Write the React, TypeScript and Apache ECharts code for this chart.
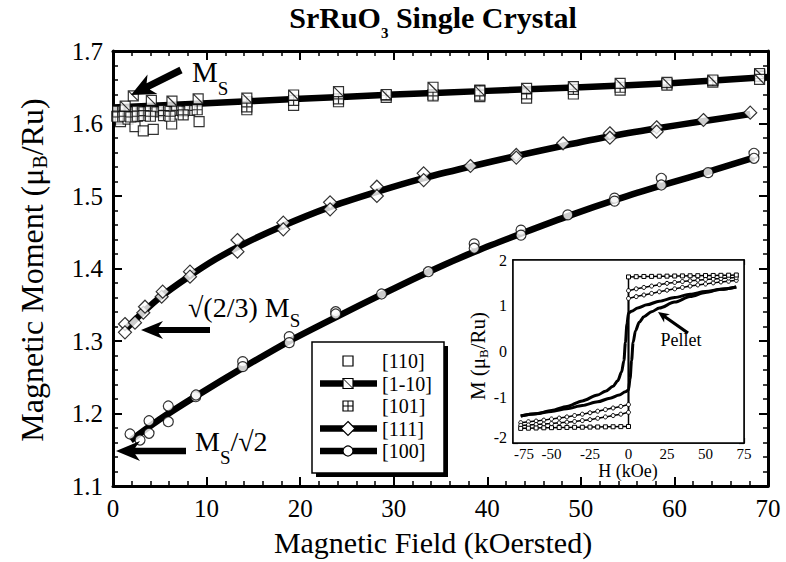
import React, { useEffect, useRef } from 'react';
import * as echarts from 'echarts';

const FONT = '"Liberation Serif", "Times New Roman", serif';

// ---------- main plot data (H in kOe, M in muB/Ru) ----------
const legendNames = ['[110]', '[1-10]', '[101]', '[111]', '[100]'];

const pts110: number[][] = [
  [0.4, 1.61], [0.8, 1.6025], [1.6, 1.606], [2.35, 1.5956], [3.24, 1.5897], [4.3, 1.592], [6.27, 1.5993], [9.2, 1.6025],
  [14.3, 1.619], [19.3, 1.625], [24.1, 1.63], [29.2, 1.636], [34.2, 1.64], [39.2, 1.637], [44.2, 1.635],
  [49.2, 1.6407], [54.2, 1.646], [59.2, 1.655], [64.1, 1.657], [69.1, 1.667],
];

const pts1m10: number[][] = [
  [1.3, 1.624], [2.17, 1.638], [4.1, 1.632], [6.3, 1.631], [9.1, 1.634], [14.3, 1.635], [19.3, 1.6393],
  [24.1, 1.6439], [29.2, 1.64], [34.2, 1.65], [39.2, 1.645], [44.2, 1.6485], [49.2, 1.6508], [54.2, 1.6554],
  [59.2, 1.6568], [64.1, 1.66], [69.1, 1.669], [69.1, 1.661],
];

const pts101: number[][] = [
  [0.5, 1.617], [1.2, 1.618], [1.9, 1.616], [2.6, 1.617], [3.3, 1.616], [4.0, 1.617], [4.7, 1.616], [5.4, 1.618],
  [6.1, 1.617], [6.8, 1.618], [7.5, 1.617], [8.2, 1.618], [9.0, 1.619],
  [0.5, 1.609], [1.2, 1.61], [1.9, 1.609], [2.6, 1.61], [3.3, 1.611], [4.0, 1.61], [5.4, 1.611], [6.1, 1.61], [7.5, 1.612],
  [14.3, 1.63], [14.3, 1.623], [19.3, 1.632], [24.1, 1.634], [29.2, 1.639], [34.2, 1.638], [39.2, 1.646], [39.2, 1.639],
  [44.2, 1.641], [49.2, 1.647], [54.2, 1.65], [59.2, 1.653], [64.1, 1.659], [69.1, 1.665],
];

const pts111: number[][] = [
  [1.28, 1.3234], [1.28, 1.312], [2.35, 1.3253], [3.24, 1.339], [3.42, 1.3473], [5.2, 1.361], [5.31, 1.368],
  [8.23, 1.3956], [8.23, 1.3887], [13.3, 1.4393], [13.3, 1.4232], [18.2, 1.4632], [18.2, 1.454], [23.2, 1.4913],
  [23.2, 1.4816], [28.2, 1.5128], [28.2, 1.5], [33.2, 1.5313], [33.2, 1.522], [38.2, 1.5414], [43.1, 1.5566],
  [43.1, 1.553], [48.1, 1.5727], [53.1, 1.5865], [53.1, 1.5804], [58.1, 1.5948], [58.1, 1.5887], [63.1, 1.6048],
  [68.1, 1.615],
];

const pts100: number[][] = [
  [1.82, 1.1717], [2.89, 1.1634], [3.85, 1.19], [3.85, 1.1727], [5.91, 1.2103], [5.91, 1.1887], [8.84, 1.2232],
  [8.87, 1.2255], [13.86, 1.2715], [13.86, 1.2646], [18.84, 1.306], [18.84, 1.2977], [23.8, 1.3404], [23.8, 1.3372],
  [28.7, 1.3648], [33.7, 1.3956], [38.6, 1.434], [38.6, 1.428], [43.6, 1.453], [43.6, 1.446], [48.6, 1.474],
  [53.6, 1.497], [53.6, 1.493], [58.6, 1.5244], [58.6, 1.5152], [63.6, 1.5322], [68.5, 1.5589], [68.5, 1.552],
];

// fitted curves
const fit1m10: number[][] = [[0, 1.622], [10, 1.628], [20, 1.634], [30, 1.64], [40, 1.645], [50, 1.65], [60, 1.656], [70, 1.664]];
const fit111: number[][] = [
  [1.4, 1.317], [3, 1.337], [5, 1.36], [8, 1.388], [11, 1.413], [14, 1.434], [18, 1.458], [23, 1.484],
  [28, 1.505], [33, 1.524], [38, 1.54], [43, 1.555], [48, 1.569], [53, 1.582], [58, 1.593], [63, 1.603], [68.1, 1.613],
];
const fit100: number[][] = [
  [1.9, 1.163], [5, 1.192], [9, 1.225], [14, 1.264], [19, 1.301], [24, 1.334], [29, 1.366],
  [34, 1.397], [39, 1.425], [44, 1.45], [49, 1.474], [54, 1.496], [59, 1.516], [64, 1.535], [68.5, 1.553],
];

// ---------- inset data ----------
const insetHpos = [0, 5, 10, 15, 20, 25, 30, 35, 40, 45, 50, 55, 60, 65, 70];
const insetHneg = [0, -5, -10, -15, -20, -25, -30, -35, -40, -45, -50, -55, -60, -65, -70];
const loopAtop = [1.63, 1.635, 1.64, 1.642, 1.645, 1.647, 1.65, 1.652, 1.655, 1.657, 1.66, 1.662, 1.665, 1.668, 1.672];
const loopAbot = [-1.64, -1.642, -1.645, -1.647, -1.65, -1.652, -1.655, -1.657, -1.66, -1.662, -1.665, -1.668, -1.672, -1.676, -1.68];
const loopBtop = [1.33, 1.37, 1.4, 1.43, 1.46, 1.49, 1.51, 1.53, 1.545, 1.56, 1.575, 1.585, 1.595, 1.605, 1.615];
const loopBbot = [-1.33, -1.37, -1.4, -1.43, -1.46, -1.49, -1.51, -1.53, -1.545, -1.56, -1.575, -1.585, -1.595, -1.605, -1.615];
const loopCtop = [1.16, 1.2, 1.235, 1.27, 1.305, 1.34, 1.37, 1.4, 1.43, 1.455, 1.475, 1.5, 1.52, 1.535, 1.555];
const loopCbot = [-1.16, -1.2, -1.235, -1.27, -1.305, -1.34, -1.37, -1.4, -1.43, -1.455, -1.475, -1.5, -1.52, -1.535, -1.555];

const pelletDesc: number[][] = [
  [70, 1.41], [60, 1.36], [50, 1.31], [40, 1.25], [30, 1.18], [20, 1.1], [12, 1.02], [6, 0.95], [2, 0.88], [0, 0.84],
  [-1, 0.6], [-2, 0.2], [-3, -0.2], [-4.5, -0.45], [-7, -0.64], [-10, -0.76], [-15, -0.87], [-20, -0.95],
  [-30, -1.08], [-40, -1.2], [-50, -1.29], [-60, -1.36], [-70, -1.41],
];
const pelletAsc: number[][] = [
  [-70, -1.41], [-60, -1.36], [-50, -1.31], [-40, -1.25], [-30, -1.18], [-20, -1.1], [-12, -1.02], [-6, -0.95],
  [-2, -0.88], [0, -0.84], [1, -0.6], [2, -0.2], [3, 0.2], [4.5, 0.45], [7, 0.64], [10, 0.76], [15, 0.87],
  [20, 0.95], [30, 1.08], [40, 1.2], [50, 1.29], [60, 1.36], [70, 1.41],
];

// ---------- helpers ----------
let measureCtx: CanvasRenderingContext2D | null = null;
function measure(text: string, size: number, weight = 'normal') {
  if (!measureCtx) measureCtx = document.createElement('canvas').getContext('2d');
  measureCtx!.font = `${weight} ${size}px ${FONT}`;
  return measureCtx!.measureText(text).width;
}

type Part = { t: string; sub?: boolean };
function richText(parts: Part[], x0: number, baseline: number, size: number, subSize: number, subDrop: number,
  weight = 'normal', align: 'left' | 'center' = 'left'): any[] {
  const widths = parts.map((p) => measure(p.t, p.sub ? subSize : size, weight));
  const total = widths.reduce((a, b) => a + b, 0);
  let x = align === 'center' ? x0 - total / 2 : x0;
  return parts.map((p, i) => {
    const s = p.sub ? subSize : size;
    const b = baseline + (p.sub ? subDrop : 0);
    const el = {
      type: 'text', x, y: b - 0.34 * s, z: 100,
      style: { text: p.t, font: `${weight} ${s}px ${FONT}`, fill: '#000', textAlign: 'left', textVerticalAlign: 'middle' },
    };
    x += widths[i];
    return el;
  });
}

function arrow(tx: number, ty: number, bx: number, by: number, headLen: number, headHalf: number, shaft: number) {
  const dx = bx - tx, dy = by - ty;
  const L = Math.hypot(dx, dy);
  const ux = dx / L, uy = dy / L, nx = -uy, ny = ux;
  const P = (a: number, b: number) => [tx + ux * a + nx * b, ty + uy * a + ny * b];
  return {
    type: 'polygon', z: 100,
    shape: { points: [P(0, 0), P(headLen, headHalf), P(headLen * 0.8, shaft), P(L, shaft), P(L, -shaft), P(headLen * 0.8, -shaft), P(headLen, -headHalf)] },
    style: { fill: '#000' },
  };
}

const SYM_DIAG = 'path://M0,0H10V10H0Z M0,0L10,10';
const SYM_CROSS = 'path://M0,0H10V10H0Z M5,0V10 M0,5H10';

function legendGraphics(): any[] {
  const rows = [361, 383.5, 406, 428.5, 451];
  const kinds = ['square', 'diag', 'cross', 'diamond', 'circle'];
  const hasLine = [false, true, false, true, true];
  const out: any[] = [
    { type: 'rect', z: 98, shape: { x: 316, y: 346, width: 132, height: 131 }, style: { fill: '#000' } },
    { type: 'rect', z: 99, shape: { x: 312, y: 342, width: 132, height: 131 }, style: { fill: '#fff', stroke: '#000', lineWidth: 1.5 } },
  ];
  const st = { fill: '#fff', stroke: '#000', lineWidth: 1.2 };
  const ln = { stroke: '#000', lineWidth: 1 };
  rows.forEach((y, i) => {
    const cx = 348;
    if (hasLine[i]) out.push({ type: 'line', z: 100, shape: { x1: 320, y1: y, x2: 377, y2: y }, style: { stroke: '#000', lineWidth: 6.5 } });
    const k = kinds[i];
    if (k === 'square' || k === 'diag' || k === 'cross') {
      out.push({ type: 'rect', z: 101, shape: { x: cx - 5, y: y - 5, width: 10, height: 10 }, style: st });
      if (k === 'diag') out.push({ type: 'line', z: 102, shape: { x1: cx - 5, y1: y - 5, x2: cx + 5, y2: y + 5 }, style: ln });
      if (k === 'cross') {
        out.push({ type: 'line', z: 102, shape: { x1: cx, y1: y - 5, x2: cx, y2: y + 5 }, style: ln });
        out.push({ type: 'line', z: 102, shape: { x1: cx - 5, y1: y, x2: cx + 5, y2: y }, style: ln });
      }
    } else if (k === 'diamond') {
      out.push({ type: 'polygon', z: 101, shape: { points: [[cx, y - 7], [cx + 7, y], [cx, y + 7], [cx - 7, y]] }, style: st });
    } else {
      out.push({ type: 'circle', z: 101, shape: { cx, cy: y, r: 5 }, style: st });
    }
    out.push({
      type: 'text', z: 101, x: 382, y,
      style: { text: legendNames[i], font: `normal 20px ${FONT}`, fill: '#000', textAlign: 'left', textVerticalAlign: 'middle' },
    });
  });
  return out;
}

const pair = (hs: number[], ms: number[]) => hs.map((h, i) => [h, ms[i]]);

export default function App() {
  const ref = useRef<HTMLDivElement>(null);
  useEffect(() => {
    if (!ref.current) return;
    const chart = echarts.init(ref.current, undefined, { renderer: 'svg' });

    const mainAxisCommon = {
      type: 'value', splitLine: { show: false },
      axisLine: { onZero: false, lineStyle: { color: '#000', width: 3 } },
      axisTick: { inside: true, length: 9, lineStyle: { color: '#000', width: 2 } },
      minorTick: { show: true, splitNumber: 5, length: 5, lineStyle: { color: '#000', width: 1.5 } },
    };
    const insetAxisCommon = {
      type: 'value', gridIndex: 1, splitLine: { show: false },
      axisLine: { onZero: false, lineStyle: { color: '#000', width: 1.5 } },
      axisTick: { inside: true, length: 5, lineStyle: { color: '#000', width: 1.2 } },
    };
    const mainLabel = { fontFamily: FONT, fontSize: 25, color: '#000', margin: 10, showMinLabel: true, showMaxLabel: true };
    const insetLabel = { fontFamily: FONT, fontSize: 15, color: '#000', margin: 3, showMinLabel: true, showMaxLabel: true };

    const marker = { color: '#fff', borderColor: '#000', borderWidth: 1.2 };
    const fitLine = (data: number[][]) => ({
      type: 'line', xAxisIndex: 0, yAxisIndex: 0, data, smooth: 0.25, showSymbol: false,
      symbol: 'none', lineStyle: { color: '#000', width: 6.5, join: 'round', cap: 'butt' }, z: 2, silent: true,
    });
    const scat = (data: number[][], symbol: string, size: number) => ({
      type: 'scatter', xAxisIndex: 0, yAxisIndex: 0, data, symbol, symbolSize: size, itemStyle: marker, z: 3,
    });
    const loop = (top: number[], bot: number[], symbol: string) => ({
      type: 'line', xAxisIndex: 2, yAxisIndex: 2,
      data: [...pair(insetHpos, top).reverse(), ...pair(insetHneg, bot)],
      symbol, symbolSize: 4, showSymbol: true, lineStyle: { color: '#000', width: 1.5 },
      itemStyle: { color: '#fff', borderColor: '#000', borderWidth: 1 }, z: 4,
    });
    const pellet = (data: number[][]) => ({
      type: 'line', xAxisIndex: 2, yAxisIndex: 2, data, smooth: 0.3, smoothMonotone: 'x', showSymbol: false,
      symbol: 'none', lineStyle: { color: '#000', width: 3 }, z: 3,
    });

    const graphics: any[] = [
      // title
      ...richText([{ t: 'SrRuO' }, { t: '3', sub: true }, { t: ' Single Crystal' }], 433, 28, 30, 15, 10, 'bold', 'center'),
      // x axis title
      ...richText([{ t: 'Magnetic Field (kOersted)' }], 433, 553, 30, 20, 0, 'normal', 'center'),
      // y axis title (rotated)
      {
        type: 'group', x: 43, y: 270, rotation: Math.PI / 2,
        children: richText([{ t: 'Magnetic Moment (\u03bc' }, { t: 'B', sub: true }, { t: '/Ru)' }], 0, 0, 32, 20, 4, 'normal', 'center'),
      },
      // annotations
      arrow(131, 95, 181, 70, 24, 11, 3.5),
      ...richText([{ t: 'M' }, { t: 'S', sub: true }], 192, 82, 29, 19, 13),
      arrow(141, 330, 210, 330, 22, 9, 3),
      ...richText([{ t: '\u221a(2/3) M' }, { t: 'S', sub: true }], 188, 317, 28, 19, 10),
      arrow(116, 451, 186, 451, 24, 10, 3.2),
      ...richText([{ t: 'M' }, { t: 'S', sub: true }, { t: '/\u221a2' }], 195, 451, 28, 19, 13),
      // legend
      ...legendGraphics(),
      // inset titles
      ...richText([{ t: 'H (kOe)' }], 628, 477, 18, 12, 0, 'normal', 'center'),
      {
        type: 'group', x: 485, y: 356, rotation: Math.PI / 2,
        children: richText([{ t: 'M (\u03bc' }, { t: 'B', sub: true }, { t: '/Ru)' }], 0, 0, 21, 13, 3, 'normal', 'center'),
      },
      ...richText([{ t: 'Pellet' }], 681, 346, 18, 12, 0, 'normal', 'center'),
      arrow(658, 312, 688, 333, 11, 5, 1.6),
    ];

    chart.setOption({
      animation: false,
      backgroundColor: '#fff',
      grid: [
        { left: 113, top: 51, width: 655, height: 435, show: false },
        { left: 513, top: 260, width: 231, height: 183, show: true, backgroundColor: '#fff', borderColor: '#000', borderWidth: 1.5, z: 1 },
      ],
      xAxis: [
        { ...mainAxisCommon, gridIndex: 0, position: 'bottom', min: 0, max: 70, interval: 10, axisLabel: mainLabel },
        { ...mainAxisCommon, gridIndex: 0, position: 'top', min: 0, max: 70, interval: 10, axisLabel: { show: false } },
        { ...insetAxisCommon, position: 'bottom', min: -75, max: 75, interval: 25,
          axisLabel: { ...insetLabel, formatter: (v: number) => (v === -75 ? '{sh|-75}' : String(v)),
            rich: { sh: { fontFamily: FONT, fontSize: 15, color: '#000', padding: [0, 0, 0, 22] } } } },
        { ...insetAxisCommon, position: 'top', min: -75, max: 75, interval: 25, axisLabel: { show: false } },
      ],
      yAxis: [
        { ...mainAxisCommon, gridIndex: 0, position: 'left', min: 1.1, max: 1.7, interval: 0.1,
          axisLabel: { ...mainLabel, formatter: (v: number) => v.toFixed(1) } },
        { ...mainAxisCommon, gridIndex: 0, position: 'right', min: 1.1, max: 1.7, interval: 0.1, axisLabel: { show: false } },
        { ...insetAxisCommon, position: 'left', min: -2, max: 2, interval: 1,
          axisLabel: { ...insetLabel, fontSize: 16, margin: 6, formatter: (v: number) => (v === -2 ? '{up|-2}' : String(v)),
            rich: { up: { fontFamily: FONT, fontSize: 16, color: '#000', padding: [0, 0, 12, 0] } } } },
        { ...insetAxisCommon, position: 'right', min: -2, max: 2, interval: 1, axisLabel: { show: false } },
      ],
      series: [
        fitLine(fit1m10),
        fitLine(fit111),
        fitLine(fit100),
        scat(pts110, 'rect', 10),
        scat(pts101, SYM_CROSS, 10),
        scat(pts1m10, SYM_DIAG, 10),
        scat(pts111, 'diamond', 13),
        scat(pts100, 'circle', 10),
        pellet(pelletDesc),
        pellet(pelletAsc),
        loop(loopCtop, loopCbot, 'circle'),
        loop(loopBtop, loopBbot, 'circle'),
        loop(loopAtop, loopAbot, 'rect'),
      ],
      graphic: { elements: graphics },
    });
    return () => chart.dispose();
  }, []);
  return <div ref={ref} style={{ width: 786, height: 562, position: 'absolute', left: 0, top: 0 }} />;
}
